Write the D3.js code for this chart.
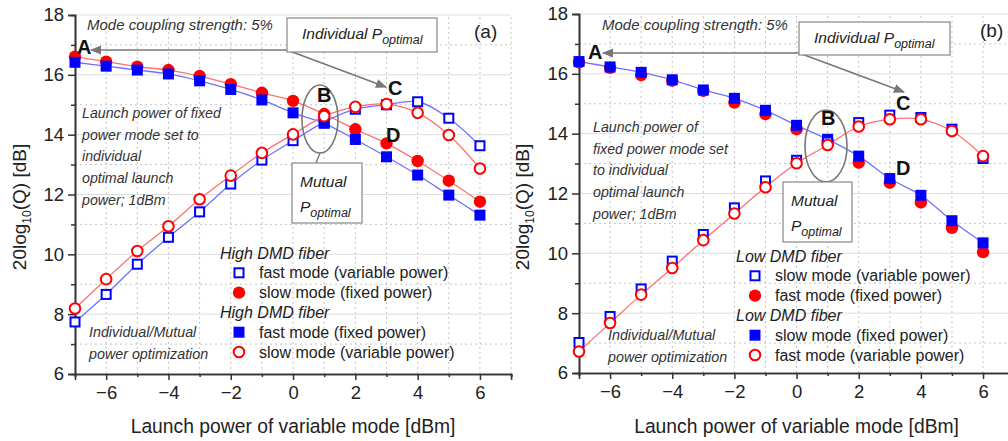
<!DOCTYPE html>
<html>
<head>
<meta charset="utf-8">
<script src="https://cdn.jsdelivr.net/npm/d3@7"></script>
<style>
  body { margin: 0; background: #fff; }
  svg { display: block; font-family: "Liberation Sans", Arial, sans-serif; }
</style>
</head>
<body>
<div id="chart"></div>
<script>
// launch power of the variable mode [dBm]
const launchPower = [-7, -6, -5, -4, -3, -2, -1, 0, 1, 2, 3, 4, 5, 6];
const yTicks = [6, 8, 10, 12, 14, 16, 18];
const xTicks = [-6, -4, -2, 0, 2, 4, 6];

// (a) high DMD fiber
const highFastVariable = [7.74, 8.66, 9.67, 10.57, 11.42, 12.35, 13.15, 13.80, 14.42, 14.85, 15.00, 15.10, 14.55, 13.63];
const highSlowFixed    = [16.61, 16.44, 16.27, 16.16, 15.96, 15.69, 15.40, 15.13, 14.69, 14.18, 13.71, 13.12, 12.46, 11.76];
const highFastFixed    = [16.42, 16.29, 16.16, 16.03, 15.80, 15.51, 15.16, 14.73, 14.38, 13.84, 13.26, 12.65, 11.98, 11.31];
const highSlowVariable = [8.19, 9.17, 10.11, 10.94, 11.84, 12.63, 13.39, 14.01, 14.62, 14.93, 15.02, 14.73, 13.99, 12.87];

// (b) low DMD fiber
const lowSlowVariable = [7.02, 7.89, 8.81, 9.74, 10.63, 11.52, 12.42, 13.11, 13.72, 14.37, 14.62, 14.54, 14.15, 13.17];
const lowFastFixed    = [16.38, 16.20, 15.96, 15.77, 15.43, 15.04, 14.65, 14.15, 13.75, 13.03, 12.36, 11.70, 10.85, 10.04];
const lowSlowFixed    = [16.41, 16.23, 16.05, 15.80, 15.46, 15.18, 14.78, 14.28, 13.81, 13.25, 12.50, 11.94, 11.09, 10.35];
const lowFastVariable = [6.72, 7.67, 8.62, 9.51, 10.44, 11.33, 12.21, 13.01, 13.62, 14.24, 14.48, 14.48, 14.09, 13.25];

const W = 1008, H = 441;
const RED = "#ff0000", BLUE = "#0000ff";
const RED_LINE = "#ff7070", BLUE_LINE = "#7070ff";
const AXIS = "#333";

const svg = d3.select("#chart").append("svg")
  .attr("width", W).attr("height", H);

// marker drawing helpers
function marker(g, type, cx, cy) {
  if (type === "sqOpen") {
    g.append("rect").attr("x", cx - 4.5).attr("y", cy - 4.5).attr("width", 9).attr("height", 9)
      .attr("fill", "#fff").attr("stroke", BLUE).attr("stroke-width", 2);
  } else if (type === "sqFill") {
    g.append("rect").attr("x", cx - 5.5).attr("y", cy - 5.5).attr("width", 11).attr("height", 11)
      .attr("fill", BLUE);
  } else if (type === "ciOpen") {
    g.append("circle").attr("cx", cx).attr("cy", cy).attr("r", 5.3)
      .attr("fill", "#fff").attr("stroke", RED).attr("stroke-width", 2);
  } else {
    g.append("circle").attr("cx", cx).attr("cy", cy).attr("r", 6.2).attr("fill", RED);
  }
}

function drawPanel(p) {
  const x = d3.scaleLinear().domain([-7, 7]).range([p.x0, p.x0 + 14 * p.dx]);
  const y = d3.scaleLinear().domain([6, 18]).range([p.yBottom, p.yTop]);
  const g = svg.append("g");

  // grid
  const grid = g.append("g");
  d3.range(-6, 8).forEach(v => {
    grid.append("line").attr("x1", x(v)).attr("x2", x(v)).attr("y1", y(6)).attr("y2", y(18))
      .attr("stroke", "#c4c4c4").attr("stroke-dasharray", "2,3");
  });
  d3.range(7, 19).forEach(v => {
    const major = v % 2 === 0;
    grid.append("line").attr("x1", x(-7)).attr("x2", x(7)).attr("y1", y(v)).attr("y2", y(v))
      .attr("stroke", major ? "#dedede" : "#c4c4c4")
      .attr("stroke-dasharray", major ? null : "2,3");
  });

  // axes
  const xAxis = d3.axisBottom(x).tickValues(xTicks).tickSize(6).tickPadding(6).tickFormat(d3.format("d"));
  const yAxis = d3.axisLeft(y).tickValues(yTicks).tickSize(7).tickPadding(4);
  const minorX = d3.axisBottom(x).tickValues([-7, -5, -3, -1, 1, 3, 5, 7]).tickSize(3).tickFormat("");
  const minorY = d3.axisLeft(y).tickValues([7, 9, 11, 13, 15, 17]).tickSize(4).tickFormat("");

  [[xAxis, true], [minorX, true], [yAxis, false], [minorY, false]].forEach(([ax, isX]) => {
    const a = g.append("g")
      .attr("transform", isX ? `translate(0,${y(6)})` : `translate(${x(-7)},0)`)
      .call(ax);
    a.select(".domain").attr("stroke", AXIS).attr("stroke-width", 1.6);
    a.selectAll(".tick line").attr("stroke", AXIS).attr("stroke-width", 1.5);
    a.selectAll(".tick text").attr("fill", "#222").style("font-size", "18.5px");
  });

  // axis titles
  g.append("text")
    .attr("x", x(0)).attr("y", 433)
    .attr("text-anchor", "middle").style("font-size", "19.3px").attr("fill", "#222")
    .text("Launch power of variable mode [dBm]");
  const yl = g.append("text")
    .attr("transform", `translate(${p.yLabelX},207) rotate(-90)`)
    .attr("text-anchor", "middle").style("font-size", "19px").attr("fill", "#222");
  yl.append("tspan").text("20log");
  yl.append("tspan").attr("dy", 5).style("font-size", "12px").text("10");
  yl.append("tspan").attr("dy", -5).text("(Q) [dB]");

  // fitted curves
  const line = d3.line()
    .x((d, i) => x(launchPower[i]))
    .y(d => y(d))
    .curve(d3.curveCatmullRom.alpha(0.5));
  p.curves.forEach(c => {
    g.append("path").datum(c.data).attr("d", line)
      .attr("fill", "none").attr("stroke", c.color).attr("stroke-width", 1.3);
  });

  // markers
  p.series.forEach(s => {
    const sg = g.append("g");
    s.data.forEach((v, i) => marker(sg, s.type, x(launchPower[i]), y(v)));
  });

  // annotations
  const ann = g.append("g");
  const ital = (tx, ty, size, str) => ann.append("text").attr("x", tx).attr("y", ty)
    .attr("font-style", "italic").style("font-size", size + "px").attr("fill", "#333").text(str);

  ital(p.coupling[0], p.coupling[1], 15, "Mode coupling strength: 5%");
  p.launchLines.forEach((t, i) => ital(p.launch[0], p.launch[1] + i * 21.7, 14.2, t));
  ital(p.indiv[0], p.indiv[1], 14.3, "Individual/Mutual");
  ital(p.indiv[0], p.indiv[1] + 22, 14.3, "power optimization");

  ann.append("text").attr("x", p.tag[0]).attr("y", p.tag[1])
    .style("font-size", "19px").attr("fill", "#222").text(p.tagText);

  // Individual P_optimal box + arrows
  const b = p.box;
  const arrName = "arr" + p.tagText.replace(/\W/g, "");
  ann.append("defs").append("marker")
    .attr("id", arrName)
    .attr("viewBox", "0 0 10 10").attr("refX", 9).attr("refY", 5)
    .attr("markerWidth", 7).attr("markerHeight", 7).attr("orient", "auto-start-reverse")
    .append("path").attr("d", "M0,1 L10,5 L0,9 Z").attr("fill", "#777");
  const arrId = `url(#${arrName})`;
  ann.append("line").attr("x1", b.x).attr("y1", b.y + b.h - 2).attr("x2", p.arrA[0]).attr("y2", p.arrA[1])
    .attr("stroke", "#777").attr("stroke-width", 1.6).attr("marker-end", arrId);
  ann.append("line").attr("x1", b.x).attr("y1", b.y + b.h - 2).attr("x2", p.arrC[0]).attr("y2", p.arrC[1])
    .attr("stroke", "#777").attr("stroke-width", 1.6).attr("marker-end", arrId);
  ann.append("rect").attr("x", b.x).attr("y", b.y).attr("width", b.w).attr("height", b.h)
    .attr("fill", "#fff").attr("stroke", "#888").attr("stroke-width", 1.2);
  const bt = ann.append("text").attr("x", b.x + 15).attr("y", b.y + b.h / 2 + 4)
    .attr("font-style", "italic").style("font-size", "15.5px").attr("fill", "#222");
  bt.append("tspan").text("Individual P");
  bt.append("tspan").attr("dy", 5).style("font-size", "12.5px").text("optimal");

  // ellipse and Mutual box
  const e = p.ell, m = p.mbox;
  ann.append("line").attr("x1", e.cx).attr("y1", e.cy + e.ry).attr("x2", e.cx - 4).attr("y2", m.y)
    .attr("stroke", "#777").attr("stroke-width", 1.4);
  ann.append("ellipse").attr("cx", e.cx).attr("cy", e.cy).attr("rx", e.rx).attr("ry", e.ry)
    .attr("fill", "none").attr("stroke", "#777").attr("stroke-width", 1.6);
  ann.append("rect").attr("x", m.x).attr("y", m.y).attr("width", m.w).attr("height", m.h)
    .attr("fill", "#fff").attr("stroke", "#888").attr("stroke-width", 1.2);
  ann.append("text").attr("x", m.x + 8).attr("y", m.y + 24)
    .attr("font-style", "italic").style("font-size", "15.5px").attr("fill", "#222").text("Mutual");
  const mt = ann.append("text").attr("x", m.x + 8).attr("y", m.y + 49)
    .attr("font-style", "italic").style("font-size", "15.5px").attr("fill", "#222");
  mt.append("tspan").text("P");
  mt.append("tspan").attr("dy", 5).style("font-size", "12.5px").text("optimal");

  // point letters
  p.letters.forEach(([t, lx, ly]) => {
    ann.append("text").attr("x", lx).attr("y", ly)
      .attr("font-weight", "bold").style("font-size", "20px").attr("fill", "#111").text(t);
  });

  // legend
  const L = p.legend;
  p.legendRows.forEach((r, i) => {
    const ly = L.y + i * 19.8;
    if (r.head) {
      ann.append("text").attr("x", L.x).attr("y", ly + 5.5).attr("font-style", "italic")
        .style("font-size", "16px").attr("fill", "#222").text(r.head);
    } else {
      marker(ann, r.type, L.x + 19, ly);
      ann.append("text").attr("x", L.x + 39).attr("y", ly + 5.5)
        .style("font-size", "16px").attr("fill", "#222").text(r.label);
    }
  });
}

// panel (a)
drawPanel({
  x0: 75, dx: 31.15, yTop: 15, yBottom: 374, yLabelX: 26,
  curves: [
    { data: highSlowFixed, color: RED_LINE },
    { data: highFastFixed, color: BLUE_LINE },
    { data: highFastVariable, color: BLUE_LINE },
    { data: highSlowVariable, color: RED_LINE }
  ],
  series: [
    { data: highFastVariable, type: "sqOpen" },
    { data: highSlowFixed, type: "ciFill" },
    { data: highFastFixed, type: "sqFill" },
    { data: highSlowVariable, type: "ciOpen" }
  ],
  coupling: [87, 30],
  launch: [82, 118],
  launchLines: ["Launch power of fixed", "power mode set to", "individual", "optimal launch", "power; 1dBm"],
  indiv: [89, 337],
  tag: [474, 38], tagText: "(a)",
  box: { x: 287, y: 18, w: 150, h: 34 },
  arrA: [91, 50], arrC: [386, 87],
  ell: { cx: 320, cy: 119, rx: 18, ry: 34 },
  mbox: { x: 292, y: 163, w: 70, h: 60 },
  letters: [["A", 77, 54], ["B", 317, 102], ["C", 388, 95], ["D", 386, 142]],
  legend: { x: 220, y: 253 },
  legendRows: [
    { head: "High DMD fiber" },
    { type: "sqOpen", label: "fast mode (variable power)" },
    { type: "ciFill", label: "slow mode (fixed power)" },
    { head: "High DMD fiber" },
    { type: "sqFill", label: "fast mode (fixed power)" },
    { type: "ciOpen", label: "slow mode (variable power)" }
  ]
});

// panel (b)
drawPanel({
  x0: 579, dx: 31.08, yTop: 14, yBottom: 373, yLabelX: 529,
  curves: [
    { data: lowSlowFixed, color: BLUE_LINE },
    { data: lowFastVariable, color: RED_LINE }
  ],
  series: [
    { data: lowFastFixed, type: "ciFill" },
    { data: lowSlowFixed, type: "sqFill" },
    { data: lowSlowVariable, type: "sqOpen" },
    { data: lowFastVariable, type: "ciOpen" }
  ],
  coupling: [602, 30],
  launch: [593, 132],
  launchLines: ["Launch power of", "fixed power mode set", "to individual", "optimal launch", "power; 1dBm"],
  indiv: [608, 340],
  tag: [980, 37], tagText: "(b)",
  box: { x: 799, y: 22, w: 151, h: 33 },
  arrA: [603, 53], arrC: [904, 92],
  ell: { cx: 826, cy: 146, rx: 21, ry: 36 },
  mbox: { x: 783, y: 182, w: 69, h: 60 },
  letters: [["A", 588, 59], ["B", 821, 125], ["C", 896, 110], ["D", 896, 175]],
  legend: { x: 736, y: 256 },
  legendRows: [
    { head: "Low DMD fiber" },
    { type: "sqOpen", label: "slow mode (variable power)" },
    { type: "ciFill", label: "fast mode (fixed power)" },
    { head: "Low DMD fiber" },
    { type: "sqFill", label: "slow mode (fixed power)" },
    { type: "ciOpen", label: "fast mode (variable power)" }
  ]
});
</script>
</body>
</html>
